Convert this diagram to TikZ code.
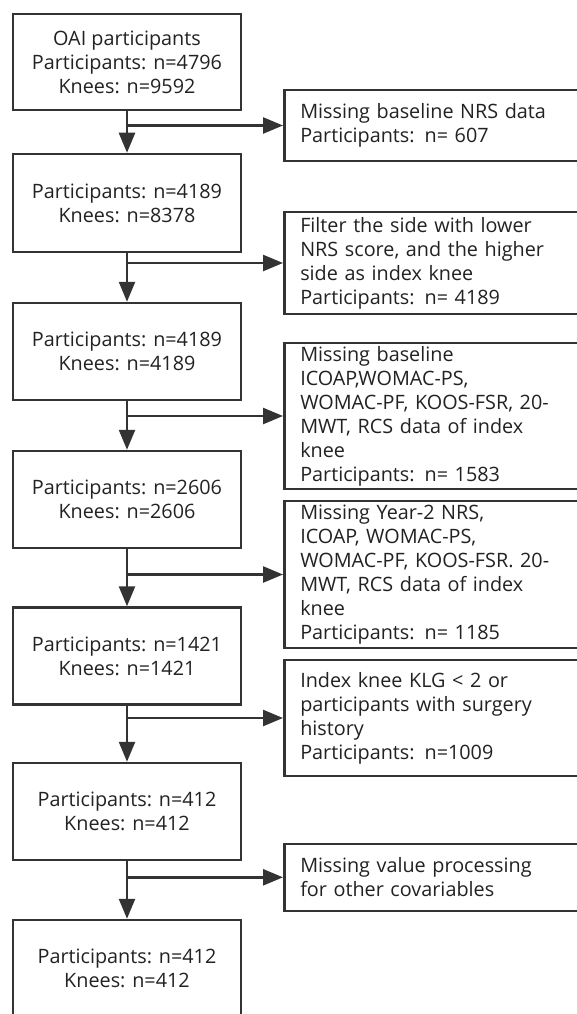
\documentclass[tikz,border=0pt]{standalone}
\usepackage{fontspec}
\setmainfont{Open Sans}
\usetikzlibrary{arrows.meta}
\definecolor{ink}{HTML}{333333}
\definecolor{txt}{HTML}{222222}
\begin{document}
\begin{tikzpicture}[x=1pt,y=-1pt,
  lbox/.style={draw=ink, line width=2.5pt, minimum width=228pt, align=center,
    inner sep=0pt, font=\fontsize{19.8}{24}\selectfont, text=txt},
  rbox/.style={draw=ink, line width=2.5pt, minimum width=294pt, text width=262pt,
    inner xsep=16pt, inner ysep=0pt, align=left, anchor=west,
    font=\fontsize{19.8}{24}\selectfont, text=txt},
  flow/.style={draw=ink, line width=2.5pt, -{Triangle[length=20pt,width=16pt]}}]
\useasboundingbox (0,0) rectangle (577,1014);
\fill[white] (0,0) rectangle (577,1014);

\node[lbox, minimum height=96pt] (b1) at (127,62) {OAI participants\\Participants: n=4796\\Knees: n=9592};
\node[lbox, minimum height=98pt] (b2) at (127,203) {Participants: n=4189\\Knees: n=8378};
\node[lbox, minimum height=97pt] (b3) at (127,351.5) {Participants: n=4189\\Knees: n=4189};
\node[lbox, minimum height=97pt] (b4) at (127,499.5) {Participants: n=2606\\Knees: n=2606};
\node[lbox, minimum height=97pt] (b5) at (127,656) {Participants: n=1421\\Knees: n=1421};
\node[lbox, minimum height=97pt] (b6) at (127,811.5) {Participants: n=412\\Knees: n=412};
\node[lbox, minimum height=97pt] (b7) at (127,968.5) {Participants: n=412\\Knees: n=412};

\node[rbox, minimum height=71pt] (r1) at (283,125.5) {Missing baseline NRS data\\Participants: n= 607};
\node[rbox, minimum height=102pt] (r2) at (283,263) {Filter the side with lower\\NRS score, and the higher\\side as index knee\\Participants: n= 4189};
\node[rbox, minimum height=146pt] (r3) at (283,416) {Missing baseline\\ICOAP,WOMAC-PS,\\WOMAC-PF, KOOS-FSR, 20-\\MWT, RCS data of index\\knee\\Participants: n= 1583};
\node[rbox, minimum height=147pt] (r4) at (283,574.5) {Missing Year-2 NRS,\\ICOAP, WOMAC-PS,\\WOMAC-PF, KOOS-FSR. 20-\\MWT, RCS data of index\\knee\\Participants: n= 1185};
\node[rbox, minimum height=116pt] (r5) at (283,718) {Index knee KLG < 2 or\\participants with surgery\\history\\Participants: n=1009};
\node[rbox, minimum height=67pt] (r6) at (283,877.3) {Missing value processing\\for other covariables};

\draw[flow] (b1.south) -- (b2.north);
\draw[flow] (b2.south) -- (b3.north);
\draw[flow] (b3.south) -- (b4.north);
\draw[flow] (b4.south) -- (b5.north);
\draw[flow] (b5.south) -- (b6.north);
\draw[flow] (b6.south) -- (b7.north);

\draw[flow] (b1.south |- r1.west) -- (r1.west);
\draw[flow] (b2.south |- r2.west) -- (r2.west);
\draw[flow] (b3.south |- r3.west) -- (r3.west);
\draw[flow] (b4.south |- r4.west) -- (r4.west);
\draw[flow] (b5.south |- r5.west) -- (r5.west);
\draw[flow] (b6.south |- r6.west) -- (r6.west);
\end{tikzpicture}
\end{document}
